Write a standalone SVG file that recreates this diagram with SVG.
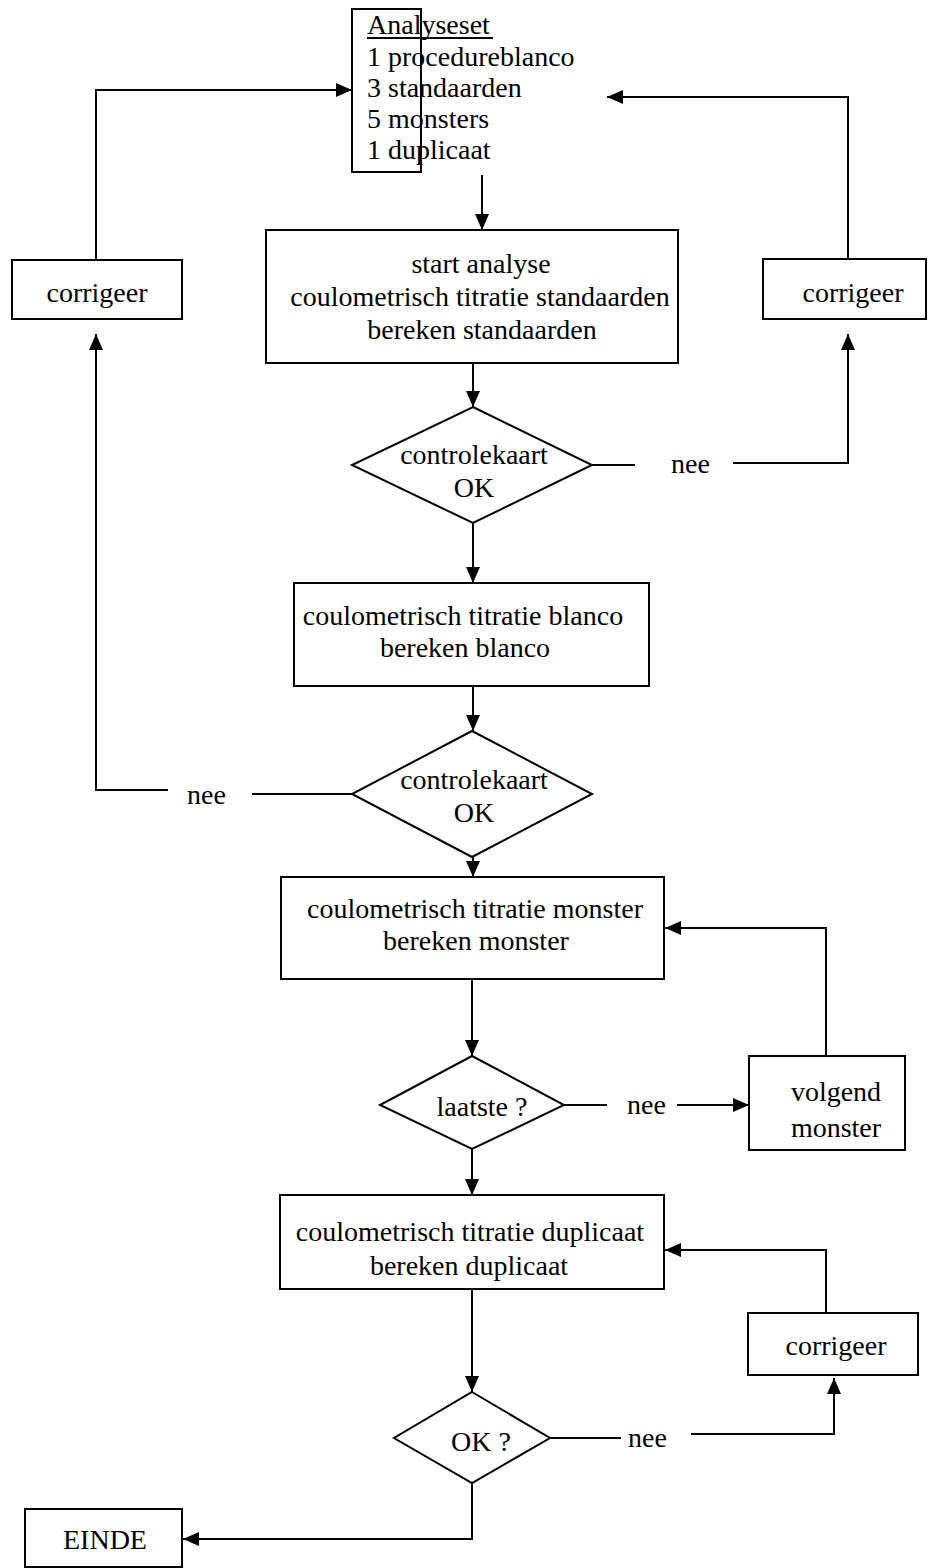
<svg xmlns="http://www.w3.org/2000/svg" width="928" height="1568" viewBox="0 0 928 1568">
<style>
.b{fill:#fff;stroke:#000;stroke-width:2}
.c{fill:none;stroke:#000;stroke-width:2}
text{font-family:"Liberation Serif","Times New Roman",serif;font-size:28px;fill:#000}
.m{text-anchor:middle}
</style>
<defs>
<marker id="ah" viewBox="0 0 16 14" refX="16" refY="7" markerWidth="16" markerHeight="14" markerUnits="userSpaceOnUse" orient="auto">
<path d="M0,0 L16,7 L0,14 Z" fill="#000"/>
</marker>
</defs>
<rect width="928" height="1568" fill="#fff"/>
<g id="connectors">
<polyline class="c" points="96,260 96,90 352,90" marker-end="url(#ah)"/>
<polyline class="c" points="848,259 848,97 607,97" marker-end="url(#ah)"/>
<line class="c" x1="482" y1="175" x2="482" y2="230" marker-end="url(#ah)"/>
<line class="c" x1="473" y1="363" x2="473" y2="407" marker-end="url(#ah)"/>
<line class="c" x1="592" y1="465" x2="635" y2="465"/>
<polyline class="c" points="733,463 848,463 848,334" marker-end="url(#ah)"/>
<line class="c" x1="473" y1="523" x2="473" y2="583" marker-end="url(#ah)"/>
<line class="c" x1="473" y1="686" x2="473" y2="731" marker-end="url(#ah)"/>
<line class="c" x1="352" y1="794" x2="252" y2="794"/>
<polyline class="c" points="168,790 96,790 96,334" marker-end="url(#ah)"/>
<line class="c" x1="473" y1="857" x2="473" y2="877" marker-end="url(#ah)"/>
<line class="c" x1="472" y1="979" x2="472" y2="1056" marker-end="url(#ah)"/>
<line class="c" x1="564" y1="1105" x2="607" y2="1105"/>
<line class="c" x1="677" y1="1105" x2="749" y2="1105" marker-end="url(#ah)"/>
<polyline class="c" points="826,1056 826,928 665,928" marker-end="url(#ah)"/>
<line class="c" x1="472" y1="1149" x2="472" y2="1195" marker-end="url(#ah)"/>
<line class="c" x1="472" y1="1289" x2="472" y2="1392" marker-end="url(#ah)"/>
<polyline class="c" points="826,1313 826,1250 665,1250" marker-end="url(#ah)"/>
<line class="c" x1="550" y1="1438" x2="621" y2="1438"/>
<polyline class="c" points="691,1434 834,1434 834,1378" marker-end="url(#ah)"/>
<polyline class="c" points="472,1483 472,1539 183,1539" marker-end="url(#ah)"/>
</g>
<g id="analyseset">
<rect class="b" x="352" y="9" width="69" height="163" fill="none" style="fill:none"/>
<text x="367" y="34">Analyseset</text>
<line x1="367" y1="38" x2="493" y2="38" stroke="#000" stroke-width="2"/>
<text x="367" y="66">1 procedureblanco</text>
<text x="367" y="97">3 standaarden</text>
<text x="367" y="128">5 monsters</text>
<text x="367" y="159">1 duplicaat</text>
</g>
<g id="corrigeer-left">
<rect class="b" x="12" y="260" width="170" height="59"/>
<text class="m" x="97" y="302">corrigeer</text>
</g>
<g id="corrigeer-right">
<rect class="b" x="763" y="259" width="163" height="60"/>
<text class="m" x="853" y="302">corrigeer</text>
</g>
<g id="start">
<rect class="b" x="266" y="230" width="412" height="133"/>
<text class="m" x="481" y="273">start analyse</text>
<text class="m" x="480" y="306">coulometrisch titratie standaarden</text>
<text class="m" x="482" y="339">bereken standaarden</text>
</g>
<g id="nee1"><text x="671" y="473">nee</text></g>
<g id="diamond1">
<polygon class="b" points="473,407 592,465 473,523 352,465"/>
<text class="m" x="474" y="464">controlekaart</text>
<text class="m" x="474" y="497">OK</text>
</g>
<g id="blanco">
<rect class="b" x="294" y="583" width="355" height="103"/>
<text class="m" x="463" y="625">coulometrisch titratie blanco</text>
<text class="m" x="465" y="657">bereken blanco</text>
</g>
<g id="diamond2">
<polygon class="b" points="472,731 592,794 472,857 352,794"/>
<text class="m" x="474" y="789">controlekaart</text>
<text class="m" x="474" y="822">OK</text>
</g>
<g id="nee2"><text x="187" y="804">nee</text></g>
<g id="monster">
<rect class="b" x="281" y="877" width="383" height="102"/>
<text class="m" x="475" y="918">coulometrisch titratie monster</text>
<text class="m" x="476" y="950">bereken monster</text>
</g>
<g id="laatste">
<polygon class="b" points="472,1056 564,1105 472,1149 380,1105"/>
<text class="m" x="482" y="1116">laatste ?</text>
</g>
<g id="nee3"><text x="627" y="1114">nee</text></g>
<g id="volgend">
<rect class="b" x="749" y="1056" width="156" height="94"/>
<text class="m" x="836" y="1101">volgend</text>
<text class="m" x="836" y="1137">monster</text>
</g>
<g id="duplicaat">
<rect class="b" x="280" y="1195" width="384" height="94"/>
<text class="m" x="470" y="1241">coulometrisch titratie duplicaat</text>
<text class="m" x="469" y="1275">bereken duplicaat</text>
</g>
<g id="corrigeer-bottom">
<rect class="b" x="748" y="1313" width="170" height="62"/>
<text class="m" x="836" y="1355">corrigeer</text>
</g>
<g id="ok">
<polygon class="b" points="472,1392 550,1438 472,1483 394,1438"/>
<text class="m" x="481" y="1451">OK ?</text>
</g>
<g id="nee4"><text x="628" y="1447">nee</text></g>
<g id="einde">
<rect class="b" x="25" y="1509" width="157" height="58"/>
<text class="m" x="105" y="1549">EINDE</text>
</g>
</svg>
